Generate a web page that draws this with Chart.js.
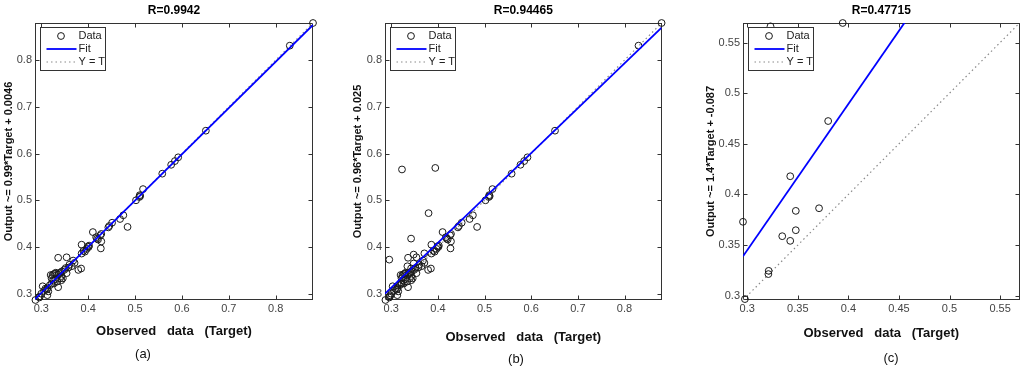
<!DOCTYPE html>
<html>
<head>
<meta charset="utf-8">
<script src="https://cdn.jsdelivr.net/npm/chart.js@4.4.1/dist/chart.umd.min.js"></script>
<style>
  html, body { margin: 0; padding: 0; background: #fff; }
  body { width: 1024px; height: 367px; position: relative; overflow: hidden; }
  .pane { position: absolute; top: 0; }
  .lab { position: absolute; width: 40px; text-align: center; font: 13px 'Liberation Sans', Arial, sans-serif; color: #111; line-height: 15px; }
</style>
</head>
<body>
<div class="pane" style="left:0px"><canvas id="cA" width="330" height="367"></canvas></div>
<div class="pane" style="left:340px"><canvas id="cB" width="326" height="367"></canvas></div>
<div class="pane" style="left:680px"><canvas id="cC" width="344" height="367"></canvas></div>
<div class="lab" id="labA" style="left:123px; top:346px"></div>
<div class="lab" id="labB" style="left:496px; top:351px"></div>
<div class="lab" id="labC" style="left:871px; top:350px"></div>
<script>
// ---------------- data ----------------
const ticksAB = [0.3, 0.4, 0.5, 0.6, 0.7, 0.8];
const tickLabelsAB = ['0.3', '0.4', '0.5', '0.6', '0.7', '0.8'];
const ticksC = [0.3, 0.35, 0.4, 0.45, 0.5, 0.55];
const tickLabelsC = ['0.3', '0.35', '0.4', '0.45', '0.5', '0.55'];

// training set (panel a)
const trainTarget = [0.8795, 0.830, 0.651, 0.592, 0.585, 0.577, 0.558, 0.517, 0.510, 0.509,
  0.511, 0.502, 0.484, 0.475, 0.468, 0.451, 0.445, 0.443, 0.428, 0.426,
  0.428, 0.427, 0.419, 0.417, 0.421, 0.410, 0.402, 0.401, 0.399, 0.397,
  0.393, 0.390, 0.386, 0.386, 0.385, 0.379, 0.371, 0.368, 0.365, 0.360,
  0.354, 0.336, 0.354, 0.352, 0.349, 0.346, 0.343, 0.341, 0.338, 0.336,
  0.331, 0.329, 0.327, 0.324, 0.320, 0.322, 0.325, 0.330, 0.334, 0.336,
  0.322, 0.318, 0.313, 0.312, 0.315, 0.303, 0.306, 0.313, 0.300, 0.297,
  0.296, 0.2875, 0.309, 0.327, 0.340, 0.344, 0.358, 0.343];
const trainOutput = [0.8795, 0.831, 0.649, 0.592, 0.584, 0.576, 0.557, 0.524, 0.511, 0.507,
  0.509, 0.500, 0.443, 0.468, 0.460, 0.452, 0.445, 0.442, 0.428, 0.425,
  0.412, 0.397, 0.418, 0.421, 0.416, 0.432, 0.403, 0.400, 0.401, 0.396,
  0.390, 0.392, 0.405, 0.386, 0.354, 0.351, 0.366, 0.371, 0.359, 0.362,
  0.378, 0.377, 0.344, 0.355, 0.351, 0.333, 0.338, 0.345, 0.344, 0.341,
  0.345, 0.343, 0.342, 0.340, 0.340, 0.333, 0.328, 0.331, 0.326, 0.314,
  0.322, 0.318, 0.312, 0.309, 0.305, 0.316, 0.306, 0.297, 0.300, 0.294,
  0.292, 0.2866, 0.311, 0.322, 0.333, 0.348, 0.356, 0.329];

// test set (panel c)
const testTarget = [0.2958, 0.323, 0.3944, 0.380, 0.3425, 0.348, 0.371, 0.3346, 0.3425, 0.348, 0.3212, 0.3209, 0.2977];
const testOutput = [0.373, 0.566, 0.5693, 0.4725, 0.418, 0.3838, 0.3864, 0.3588, 0.3542, 0.3647, 0.3246, 0.3214, 0.2967];

// all data (panel b)
const allTarget = trainTarget.concat(testTarget);
const allOutput = trainOutput.concat(testOutput);

// regression fits [slope, intercept]
const fitA = [0.99, 0.0046];
const fitB = [0.96, 0.025];
const fitC = [1.443, -0.0878];

const rTitles = ['R=0.9942', 'R=0.94465', 'R=0.47715'];
const yTitles = ['Output ~= 0.99*Target + 0.0046', 'Output ~= 0.96*Target + 0.025', 'Output ~= 1.4*Target + -0.087'];
const xTitle = 'Observed   data   (Target)';
const panelLabels = ['(a)', '(b)', '(c)'];
const legendLabels = ['Data', 'Fit', 'Y = T'];

// ---------------- drawing ----------------
const FONT = "'Liberation Sans', Arial, Helvetica, sans-serif";

const framePlugin = {
  id: 'frame',
  beforeDatasetsDraw(chart) {
    const { ctx, chartArea: a, scales: { x, y } } = chart;
    ctx.save();
    ctx.strokeStyle = '#333';
    ctx.lineWidth = 1;
    const L = Math.round(a.left) + 0.5, R = Math.round(a.right) - 0.5;
    const T = Math.round(a.top) + 0.5, B = Math.round(a.bottom) - 0.5;
    ctx.strokeRect(L, T, R - L, B - T);
    const tl = 4;
    ctx.beginPath();
    x.ticks.forEach(t => {
      const px = Math.round(x.getPixelForValue(t.value)) + 0.5;
      ctx.moveTo(px, B); ctx.lineTo(px, B - tl);
      ctx.moveTo(px, T); ctx.lineTo(px, T + tl);
    });
    y.ticks.forEach(t => {
      const py = Math.round(y.getPixelForValue(t.value)) + 0.5;
      ctx.moveTo(L, py); ctx.lineTo(L + tl, py);
      ctx.moveTo(R, py); ctx.lineTo(R - tl, py);
    });
    ctx.stroke();
    ctx.restore();
  },
  afterDatasetsDraw(chart) {
    // legend box inside the axes, upper left
    const { ctx, chartArea: a } = chart;
    const bx = Math.round(a.left) + 5.5, by = Math.round(a.top) + 4.5, bw = 65, bh = 43;
    ctx.save();
    ctx.fillStyle = '#fff';
    ctx.fillRect(bx, by, bw, bh);
    ctx.strokeStyle = '#333';
    ctx.lineWidth = 1;
    ctx.strokeRect(bx, by, bw, bh);
    ctx.font = '11px ' + FONT;
    ctx.textBaseline = 'middle';
    ctx.textAlign = 'left';
    chart.data.datasets.forEach((ds, i) => {
      const cy = by + 8.5 + i * 13;
      if (ds.showLine) {
        ctx.save();
        ctx.strokeStyle = ds.borderColor;
        ctx.lineWidth = ds.borderWidth;
        ctx.setLineDash(ds.borderDash || []);
        ctx.beginPath();
        ctx.moveTo(bx + 6, cy); ctx.lineTo(bx + 36, cy);
        ctx.stroke();
        ctx.restore();
      } else {
        ctx.save();
        ctx.strokeStyle = ds.pointBorderColor;
        ctx.lineWidth = ds.pointBorderWidth;
        ctx.beginPath();
        ctx.arc(bx + 20.5, cy, ds.pointRadius, 0, Math.PI * 2);
        ctx.stroke();
        ctx.restore();
      }
      ctx.fillStyle = '#222';
      ctx.fillText(ds.label, bx + 38, cy);
    });
    ctx.restore();
  }
};

function pts(tx, ty) { return tx.map((t, i) => ({ x: t, y: ty[i] })); }

function makePanel(id, p) {
  const lo = Math.min(...p.tx, ...p.ty), hi = Math.max(...p.tx, ...p.ty);
  const fitLine = [lo, hi].map(t => ({ x: t, y: p.fit[0] * t + p.fit[1] }));
  const idLine = [lo, hi].map(t => ({ x: t, y: t }));
  const tickCfg = {
    color: '#444', autoSkip: false, maxRotation: 0,
    font: { family: FONT, size: 11 },
    callback: (v, i) => p.tickLabels[i]
  };
  const gridCfg = { display: false, drawTicks: false, tickLength: 0 };
  return new Chart(document.getElementById(id), {
    type: 'scatter',
    data: {
      datasets: [
        { label: legendLabels[0], data: pts(p.tx, p.ty), pointStyle: 'circle', pointRadius: 3.4,
          pointBorderWidth: 1, pointBorderColor: '#1a1a1a', pointBackgroundColor: 'rgba(0,0,0,0)',
          pointHoverRadius: 3.4, clip: false, order: 2 },
        { label: legendLabels[1], data: fitLine, showLine: true, borderColor: '#0000ff', borderWidth: 1.8,
          pointRadius: 0, pointHoverRadius: 0, clip: 0, order: 1 },
        { label: legendLabels[2], data: idLine, showLine: true, borderColor: '#8a8a8a', borderWidth: 1.2,
          borderDash: [1.5, 3], pointRadius: 0, pointHoverRadius: 0, clip: 0, order: 3 }
      ]
    },
    options: {
      responsive: false, animation: false, events: [],
      layout: { padding: { left: 0, right: p.padR, top: 0, bottom: 0 } },
      plugins: {
        legend: { display: false },
        tooltip: { enabled: false },
        title: { display: true, text: p.title, color: '#000', fullSize: false,
          font: { family: FONT, size: 12, weight: 'bold' }, padding: { top: 3.5, bottom: 5.1 } }
      },
      scales: {
        x: {
          type: 'linear', min: lo, max: hi,
          afterBuildTicks: s => { s.ticks = p.ticks.map(v => ({ value: v })); },
          afterFit: s => { s.height = 67; s.paddingLeft = 0; s.paddingRight = 0; },
          grid: gridCfg, border: { display: false },
          ticks: Object.assign({}, tickCfg, { padding: 2 }),
          title: { display: true, text: xTitle, color: '#111',
            font: { family: FONT, size: 13, weight: 'bold' }, padding: { top: 0, bottom: p.xTitlePad } }
        },
        y: {
          type: 'linear', min: lo, max: hi,
          afterBuildTicks: s => { s.ticks = p.ticks.map(v => ({ value: v })); },
          afterFit: s => { s.width = p.yW; s.paddingTop = 0; s.paddingBottom = 0; },
          grid: gridCfg, border: { display: false },
          ticks: Object.assign({}, tickCfg, { padding: 3 }),
          title: { display: true, text: p.yTitle, color: '#111',
            font: { family: FONT, size: 11, weight: 'bold' }, padding: { top: p.yTitlePad, bottom: 0 } }
        }
      }
    },
    plugins: [framePlugin]
  });
}

makePanel('cA', { tx: trainTarget, ty: trainOutput, fit: fitA, ticks: ticksAB, tickLabels: tickLabelsAB,
  title: rTitles[0], yTitle: yTitles[0], yW: 35, padR: 17, yTitlePad: 2.7, xTitlePad: 28.2 });
makePanel('cB', { tx: allTarget, ty: allOutput, fit: fitB, ticks: ticksAB, tickLabels: tickLabelsAB,
  title: rTitles[1], yTitle: yTitles[1], yW: 45, padR: 4, yTitlePad: 11.7, xTitlePad: 22.2 });
makePanel('cC', { tx: testTarget, ty: testOutput, fit: fitC, ticks: ticksC, tickLabels: tickLabelsC,
  title: rTitles[2], yTitle: yTitles[2], yW: 63, padR: 4, yTitlePad: 24.4, xTitlePad: 26.2 });

document.getElementById('labA').textContent = panelLabels[0];
document.getElementById('labB').textContent = panelLabels[1];
document.getElementById('labC').textContent = panelLabels[2];
</script>
</body>
</html>
